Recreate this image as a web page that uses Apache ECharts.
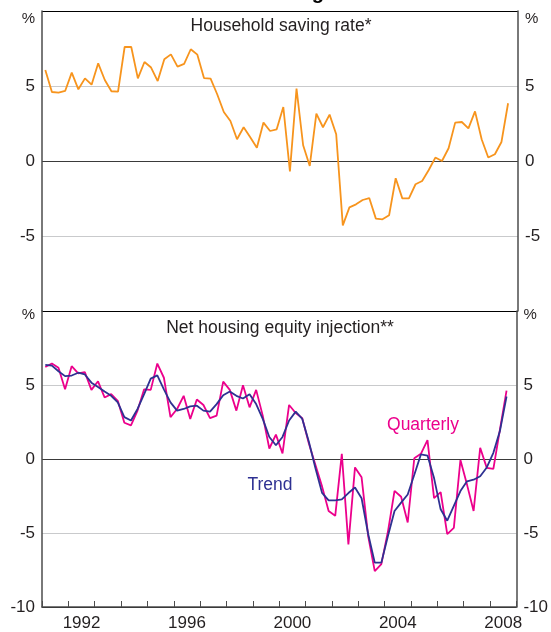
<!DOCTYPE html>
<html>
<head>
<meta charset="utf-8">
<script src="https://cdn.jsdelivr.net/npm/echarts@6/dist/echarts.min.js"></script>
<style>
  html, body { margin: 0; padding: 0; background: #fff; }
  #chart { width: 551px; height: 632px; }
</style>
</head>
<body>
<div id="chart"></div>
<script>
// Quarterly series, first observation 1991 Q1
const firstYear = 1991;
const years = ['1991','1992','1993','1994','1995','1996','1997','1998','1999',
               '2000','2001','2002','2003','2004','2005','2006','2007','2008'];

// Household saving rate, per cent of disposable income
const savingRate = [
  6.07, 4.60, 4.56, 4.67,
  5.89, 4.78, 5.51, 5.09,
  6.51, 5.40, 4.65, 4.62,
  7.60, 7.60, 5.51, 6.60,
  6.23, 5.33, 6.78, 7.11,
  6.29, 6.47, 7.45, 7.09,
  5.53, 5.49, 4.45, 3.27,
  2.67, 1.45, 2.25, 1.58,
  0.89, 2.56, 2.00, 2.11,
  3.60, -0.69, 4.83, 1.05,
  -0.33, 3.16, 2.25, 3.09,
  1.78, -4.29, -3.09, -2.89,
  -2.60, -2.47, -3.84, -3.89,
  -3.62, -1.15, -2.49, -2.49,
  -1.55, -1.33, -0.60, 0.23,
  0.00, 0.85, 2.56, 2.60,
  2.18, 3.31, 1.45, 0.23,
  0.45, 1.27, 3.85
];

// Net housing equity injection, quarterly
const equityQuarterly = [
  6.22, 6.45, 6.16, 4.71,
  6.27, 5.78, 5.87, 4.67,
  5.25, 4.16, 4.38, 3.93,
  2.45, 2.27, 3.27, 4.71,
  4.67, 6.45, 5.49, 2.83,
  3.38, 4.27, 2.71, 4.02,
  3.65, 2.76, 2.93, 5.23,
  4.67, 3.27, 4.98, 3.49,
  4.67, 2.93, 0.71, 1.65,
  0.38, 3.65, 3.11, 2.76,
  1.05, -0.40, -1.85, -3.51,
  -3.84, 0.35, -5.77, -0.57,
  -1.24, -5.20, -7.58, -7.10,
  -4.90, -2.15, -2.55, -4.29,
  0.05, 0.35, 1.27, -2.64,
  -2.24, -5.07, -4.65, -0.07,
  -1.73, -3.51, 0.76, -0.60,
  -0.67, 2.00, 4.62
];

// Net housing equity injection, trend
const equityTrend = [
  6.36, 6.31, 5.93, 5.60,
  5.64, 5.83, 5.71, 5.16,
  4.87, 4.56, 4.27, 3.83,
  2.83, 2.60, 3.38, 4.38,
  5.43, 5.65, 4.71, 3.83,
  3.27, 3.38, 3.56, 3.60,
  3.27, 3.20, 3.71, 4.31,
  4.56, 4.27, 4.09, 4.38,
  3.71, 2.71, 1.49, 0.93,
  1.49, 2.60, 3.20, 2.71,
  1.16, -0.62, -2.29, -2.80,
  -2.80, -2.73, -2.30, -1.93,
  -2.65, -5.07, -7.00, -7.00,
  -5.20, -3.51, -2.95, -2.40,
  -1.07, 0.31, 0.23, -1.29,
  -3.40, -4.17, -3.17, -2.17,
  -1.51, -1.40, -1.17, -0.57,
  0.42, 1.90, 4.22
];

// Each observation is plotted at the middle of its quarter
const quarterDate = i => firstYear + Math.floor(i / 4) + ((i % 4) + 0.5) / 4;
const pairs = arr => arr.map((v, i) => [quarterDate(i), v]);

const FONT = '"Liberation Sans", Arial, sans-serif';
const TEXT = '#231f20';
const AXIS = '#4d4d4d';

const chart = echarts.init(document.getElementById('chart'), null, { renderer: 'canvas' });

// horizontal rules at -10, -5, 0, 5, 10
const gridLineColours = ['#000000', '#c9cacc', '#3a3a3a', '#c9cacc', '#000000'];

function yAxisFor(gridIndex, side, topPanel) {
  return {
    type: 'value', gridIndex, position: side,
    min: -10, max: 10, interval: 5,
    axisLine: { show: true, onZero: false, lineStyle: { color: AXIS, width: 1.5 } },
    axisTick: { show: false },
    splitLine: side === 'left'
      ? { show: true, lineStyle: { color: gridLineColours, width: 1.2 } }
      : { show: false },
    axisLabel: {
      margin: 7, fontSize: 17, color: TEXT, fontFamily: FONT,
      formatter: v => {
        if (v === 10) return topPanel ? '{pt|%}' : '{pb|%}';
        if (v === -10 && topPanel) return '';
        return String(v);
      },
      rich: {
        pt: { fontSize: 15, color: TEXT, fontFamily: FONT, padding: [16, 0, 0, 0] },
        pb: { fontSize: 15, color: TEXT, fontFamily: FONT, padding: [8, 0, 0, 0] }
      }
    }
  };
}

const option = {
  animation: false,
  backgroundColor: '#ffffff',
  grid: [
    { left: 42, right: 33, top: 11, height: 300 },
    { left: 42, right: 33, top: 311, height: 300 }
  ],
  xAxis: [
    // data axes (time in years)
    { type: 'value', gridIndex: 0, min: 1991, max: 2009, show: false },
    { type: 'value', gridIndex: 1, min: 1991, max: 2009, show: false },
    // calendar-year bands: ticks at year boundaries, labels mid-year
    {
      type: 'category', gridIndex: 1, position: 'bottom', data: years, boundaryGap: true,
      axisLine: { show: true, onZero: false, lineStyle: { color: AXIS, width: 1.5 } },
      axisTick: { show: true, inside: true, length: 6, interval: 0, lineStyle: { color: AXIS, width: 1 } },
      axisLabel: {
        interval: (i, v) => Number(v) % 4 === 0,
        fontSize: 17, color: TEXT, fontFamily: FONT, margin: 8
      },
      splitLine: { show: false }
    }
  ],
  yAxis: [
    yAxisFor(0, 'left', true),
    yAxisFor(0, 'right', true),
    yAxisFor(1, 'left', false),
    yAxisFor(1, 'right', false)
  ],
  series: [
    {
      name: 'Household saving rate', type: 'line', xAxisIndex: 0, yAxisIndex: 0,
      data: pairs(savingRate), showSymbol: false, symbol: 'none',
      lineStyle: { color: '#f7941d', width: 1.8 }, z: 5
    },
    {
      name: 'Quarterly', type: 'line', xAxisIndex: 1, yAxisIndex: 2,
      data: pairs(equityQuarterly), showSymbol: false, symbol: 'none',
      lineStyle: { color: '#ec008c', width: 1.8 }, z: 5
    },
    {
      name: 'Trend', type: 'line', xAxisIndex: 1, yAxisIndex: 2,
      data: pairs(equityTrend), showSymbol: false, symbol: 'none',
      lineStyle: { color: '#2e3192', width: 1.8 }, z: 6
    }
  ],
  graphic: [
    {
      // page heading sits above the top edge; only the descender of its last letter shows
      type: 'text', silent: true, z: 10,
      style: { text: 'Household Saving', x: 324, y: 3, align: 'right', verticalAlign: 'bottom',
               font: 'bold 20px ' + FONT, fill: '#000' }
    },
    {
      type: 'text', silent: true, z: 10,
      style: { text: 'Household saving rate*', x: 281, y: 26, align: 'center', verticalAlign: 'middle',
               font: '17.5px ' + FONT, fill: TEXT }
    },
    {
      type: 'text', silent: true, z: 10,
      style: { text: 'Net housing equity injection**', x: 280, y: 328, align: 'center', verticalAlign: 'middle',
               font: '17.5px ' + FONT, fill: TEXT }
    },
    {
      type: 'text', silent: true, z: 10,
      style: { text: 'Quarterly', x: 423, y: 425, align: 'center', verticalAlign: 'middle',
               font: '17.5px ' + FONT, fill: '#ec008c' }
    },
    {
      type: 'text', silent: true, z: 10,
      style: { text: 'Trend', x: 270, y: 485, align: 'center', verticalAlign: 'middle',
               font: '17.5px ' + FONT, fill: '#2e3192' }
    }
  ]
};

chart.setOption(option);
</script>
</body>
</html>
